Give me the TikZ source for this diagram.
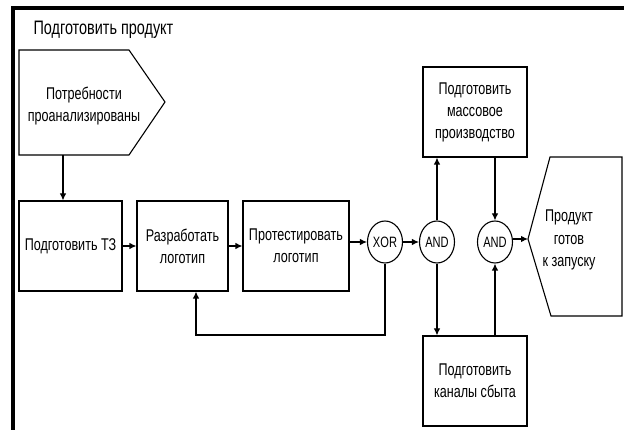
\documentclass[tikz,border=0pt]{standalone}
\usepackage{fontspec}
\setmainfont[FakeStretch=0.74]{Liberation Sans}
\usetikzlibrary{shapes.geometric,calc,arrows.meta}

\begin{document}
\begin{tikzpicture}[x=1pt,y=-1pt,line width=1.1pt,
	box/.style={draw,rectangle,inner sep=2pt,align=center,font=\fontsize{17}{22}\selectfont},
	gate/.style={draw,ellipse,minimum width=35pt,minimum height=42pt,inner sep=0pt,font=\fontsize{15}{16}\selectfont},
	txt/.style={align=center,inner sep=0pt,font=\fontsize{17}{22.5}\selectfont},
	arr/.style={-{Latex[length=7pt,width=6.5pt]}}]
					\useasboundingbox (0,0) rectangle (624,430);
					%FRAME
					\draw[line width=4pt] (13,432) -- (13,8) -- (626,8);
					\node[anchor=west,inner sep=0pt,font=\fontsize{19.5}{20}\selectfont] (title) at (33,30) {Подготовить продукт};
					%EVENTS
					\draw (19,50) coordinate (needtl) -- (129,50) -- (165,102) -- (129,155) -- (19,155) -- cycle;
					\node[txt] (need) at (84,106) {Потребности\\проанализированы};
					\coordinate (needout) at (63,155);
					\draw (550,157) -- (622,157) -- (622,316) -- (551,316) -- (528,239) coordinate (readyin) -- cycle;
					\node[txt] (ready) at (569,240) {Продукт\\готов\\к запуску};
					%FUNCTIONS
					\node[box,minimum width=103pt,minimum height=90pt] (tz) at (70.5,246) {Подготовить ТЗ};
					\node[box,minimum width=91pt,minimum height=90pt] (logo) at (182.5,246) {Разработать\\логотип};
					\node[box,minimum width=106pt,minimum height=90pt] (test) at (296,246) {Протестировать\\логотип};
					\node[box,minimum width=104pt,minimum height=90pt] (mass) at (475,112) {Подготовить\\массовое\\производство};
					\node[box,minimum width=104pt,minimum height=90pt] (sales) at (475,381) {Подготовить\\каналы сбыта};
					%GATES
					\node[gate] (xor) at (385,242) {XOR};
					\node[gate] (and1) at (437,242) {AND};
					\node[gate] (and2) at (495,242) {AND};
					%CONNECTORS
					\draw[arr] (needout) -- (needout |- tz.north);
					\draw[arr] (tz.east |- logo) -- (logo.west);
					\draw[arr] (logo) -- (test);
					\draw[arr] (test.east |- xor) -- (xor);
					\draw[arr] (xor) -- (and1);
					\draw[arr] (and1) -- (and1 |- mass.south);
					\draw[arr] (and1) -- (and1 |- sales.north);
					\draw[arr] (mass.south -| and2) -- (and2);
					\draw[arr] (sales.north -| and2) -- (and2);
					\draw[arr] (and2.east |- readyin) -- (readyin);
					\coordinate (back) at (196,335);
					\draw[arr] (xor.south) |- (back) -- (back |- logo.south);
\end{tikzpicture}
\end{document}
